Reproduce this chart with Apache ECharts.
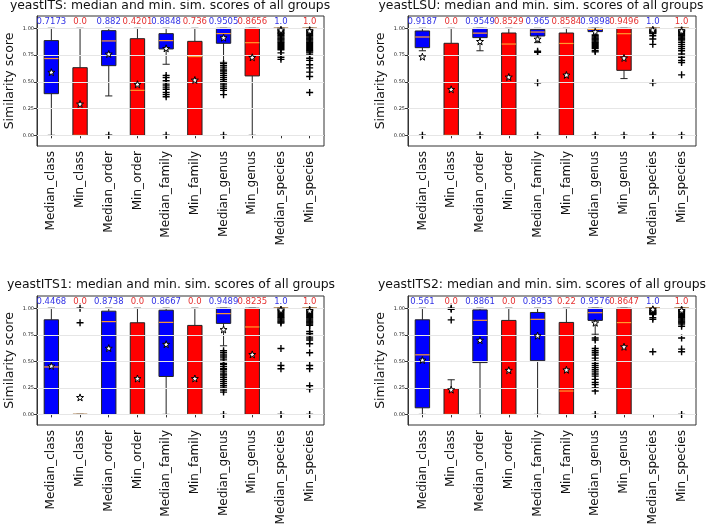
<!DOCTYPE html>
<html>
<head>
<meta charset="utf-8">
<script src="https://cdn.jsdelivr.net/npm/echarts@6/dist/echarts.min.js"></script>
<style>html,body{margin:0;padding:0;background:#fff}#c{width:709px;height:532px}</style>
</head>
<body>
<div id="c"></div>
<script>
const categories = ['Median_class','Min_class','Median_order','Min_order','Median_family','Min_family','Median_genus','Min_genus','Median_species','Min_species'];
const yTicks = [0, 0.25, 0.5, 0.75, 1.0];
const titles = ['yeastITS: median and min. sim. scores of all groups','yeastLSU: median and min. sim. scores of all groups','yeastITS1: median and min. sim. scores of all groups','yeastITS2: median and min. sim. scores of all groups'];

// [lower whisker, Q1, median, Q3, upper whisker]
const itsBoxes = [
  [0, 0.389, 0.7173, 0.885, 1.0],
  [0, 0, 0, 0.632, 1.0],
  [0.368, 0.651, 0.882, 0.978, 1.0],
  [0, 0, 0.4201, 0.903, 1.0],
  [0.664, 0.807, 0.8848, 0.95, 1.0],
  [0, 0, 0.736, 0.878, 1.0],
  [0.682, 0.86, 0.9505, 1.0, 1.0],
  [0, 0.555, 0.8656, 1.0, 1.0],
  [1, 1, 1, 1, 1],
  [1, 1, 1, 1, 1]
];
const itsMeans = [0.59, 0.293, 0.76, 0.477, 0.813, 0.517, 0.913, 0.729, 0.985, 0.975];
const itsOutliers = [
  [], [], [0], [],
  [0.56,0.54,0.51,0.49,0.47,0.45,0.43,0.40,0.38,0.36,0],
  [],
  [0.67,0.65,0.63,0.61,0.60,0.58,0.56,0.54,0.52,0.50,0.48,0.46,0.44,0.42,0.38,0],
  [],
  [0.985,0.98,0.97,0.96,0.955,0.95,0.94,0.93,0.92,0.91,0.90,0.89,0.88,0.87,0.86,0.85,0.84,0.83,0.82,0.81,0.80,0.77,0.73,0.71],
  [0.985,0.98,0.97,0.96,0.95,0.94,0.93,0.92,0.91,0.90,0.89,0.88,0.87,0.86,0.85,0.84,0.83,0.82,0.81,0.80,0.79,0.78,0.77,0.75,0.72,0.70,0.66,0.63,0.59,0.55,0.40]
];
const itsLabels = ['0.7173','0.0','0.882','0.4201','0.8848','0.736','0.9505','0.8656','1.0','1.0'];

const lsuBoxes = [
  [0.79, 0.819, 0.9187, 0.975, 1.0],
  [0, 0, 0, 0.86, 1.0],
  [0.79, 0.913, 0.9549, 1.0, 1.0],
  [0, 0, 0.8529, 0.956, 1.0],
  [0.866, 0.928, 0.965, 0.99, 1.0],
  [0, 0, 0.8584, 0.956, 1.0],
  [0.94, 0.969, 0.9898, 1.0, 1.0],
  [0.53, 0.607, 0.9496, 1.0, 1.0],
  [1, 1, 1, 1, 1],
  [1, 1, 1, 1, 1]
];
const lsuMeans = [0.735, 0.43, 0.878, 0.545, 0.9, 0.564, 0.968, 0.723, 0.985, 0.975];
const lsuOutliers = [
  [0], [], [0], [],
  [0.785,0.775,0.49,0],
  [],
  [0.93,0.92,0.91,0.90,0.89,0.88,0.87,0.86,0.85,0.84,0.83,0.82,0.81,0.79,0.78,0],
  [0],
  [0.985,0.98,0.975,0.97,0.965,0.96,0.955,0.95,0.93,0.90,0.85,0.49,0],
  [0.985,0.98,0.975,0.97,0.96,0.95,0.94,0.93,0.92,0.91,0.90,0.89,0.87,0.85,0.83,0.81,0.79,0.76,0.73,0.70,0.68,0.565,0]
];
const lsuLabels = ['0.9187','0.0','0.9549','0.8529','0.965','0.8584','0.9898','0.9496','1.0','1.0'];

const its1Boxes = [
  [0, 0, 0.4468, 0.891, 1.0],
  [0, 0, 0, 0, 0],
  [0, 0, 0.8738, 0.972, 1.0],
  [0, 0, 0, 0.863, 1.0],
  [0, 0.357, 0.8667, 0.981, 1.0],
  [0, 0, 0, 0.838, 1.0],
  [0.646, 0.857, 0.9489, 1.0, 1.0],
  [0, 0, 0.8235, 1.0, 1.0],
  [1, 1, 1, 1, 1],
  [1, 1, 1, 1, 1]
];
const its1Means = [0.456, 0.16, 0.624, 0.338, 0.661, 0.338, 0.80, 0.565, 0.985, 0.975];
const its1Outliers = [
  [], [1.0,0.863], [], [], [], [],
  [0.60,0.58,0.56,0.54,0.52,0.50,0.48,0.47,0.45,0.43,0.42,0.40,0.38,0.37,0.35,0.33,0.31,0.29,0.27,0.25,0.23,0.21,0],
  [],
  [0.985,0.98,0.97,0.96,0.95,0.94,0.93,0.92,0.91,0.90,0.89,0.88,0.87,0.86,0.62,0.46,0.43,0],
  [0.985,0.98,0.97,0.96,0.95,0.94,0.93,0.92,0.91,0.90,0.89,0.88,0.87,0.86,0.85,0.84,0.78,0.76,0.74,0.72,0.70,0.665,0.58,0.46,0.43,0.27,0.24,0]
];
const its1Labels = ['0.4468','0.0','0.8738','0.0','0.8667','0.0','0.9489','0.8235','1.0','1.0'];

const its2Boxes = [
  [0, 0.062, 0.561, 0.891, 1.0],
  [0, 0, 0, 0.242, 0.326],
  [0, 0.488, 0.8861, 0.984, 1.0],
  [0, 0, 0, 0.885, 1.0],
  [0, 0.506, 0.8953, 0.96, 1.0],
  [0, 0, 0.22, 0.866, 1.0],
  [0.755, 0.885, 0.9576, 1.0, 1.0],
  [0, 0, 0.8647, 1.0, 1.0],
  [1, 1, 1, 1, 1],
  [1, 1, 1, 1, 1]
];
const its2Means = [0.512, 0.233, 0.699, 0.416, 0.742, 0.42, 0.863, 0.637, 0.99, 0.98];
const its2Outliers = [
  [], [1.0,0.99,0.89], [], [], [], [],
  [0.72,0.70,0.62,0.60,0.58,0.56,0.53,0.50,0.48,0.46,0.44,0.42,0.40,0.38,0.36,0.33,0.30,0.28,0.25,0.22,0],
  [],
  [0.985,0.98,0.975,0.97,0.965,0.96,0.955,0.95,0.945,0.94,0.91,0.895,0.59],
  [0.985,0.98,0.975,0.97,0.96,0.95,0.94,0.93,0.92,0.91,0.90,0.89,0.88,0.87,0.86,0.85,0.83,0.72,0.615,0.59,0]
];
const its2Labels = ['0.561','0.0','0.8861','0.0','0.8953','0.22','0.9576','0.8647','1.0','1.0'];

const panels = [
  {boxes: itsBoxes, means: itsMeans, outliers: itsOutliers, labels: itsLabels},
  {boxes: lsuBoxes, means: lsuMeans, outliers: lsuOutliers, labels: lsuLabels},
  {boxes: its1Boxes, means: its1Means, outliers: its1Outliers, labels: its1Labels},
  {boxes: its2Boxes, means: its2Means, outliers: its2Outliers, labels: its2Labels}
];

const FONT = 'DejaVu Sans';
const gridRects = [
  {left: 37, top: 16, width: 287, height: 130},
  {left: 408, top: 16, width: 288, height: 130},
  {left: 37, top: 296, width: 287, height: 129},
  {left: 408, top: 296, width: 288, height: 129}
];
const titlePos = [{x: 170, y: 0}, {x: 541, y: 0}, {x: 171, y: 279}, {x: 542, y: 279}];
const LABEL_Y = 1.06;
const plusPath = 'path://M4,0h2v4h4v2h-4v4h-2v-4h-4v-2h4z';
const starPath = 'path://M0,-10 L2.35,-3.24 L9.51,-3.09 L3.8,1.24 L5.88,8.09 L0,4 L-5.88,8.09 L-3.8,1.24 L-9.51,-3.09 L-2.35,-3.24 Z';

const option = {
  animation: false,
  backgroundColor: '#fff',
  title: titles.map((t, g) => ({
    text: t, left: titlePos[g].x, top: titlePos[g].y, textAlign: 'center', padding: 0,
    textStyle: {fontFamily: FONT, fontSize: 12.4, fontWeight: 'normal', color: '#111'}
  })),
  grid: gridRects.map(r => Object.assign({show: true, borderColor: '#333', borderWidth: 1, containLabel: false}, r)),
  xAxis: gridRects.map((r, g) => ({
    type: 'category', gridIndex: g, data: categories, boundaryGap: true,
    axisLine: {lineStyle: {color: '#333', width: 1}},
    axisTick: {show: true, alignWithLabel: true, length: 3, lineStyle: {color: '#333'}},
    axisLabel: {rotate: 90, interval: 0, fontSize: 12, fontFamily: FONT, color: '#111', margin: 5},
    splitLine: {show: false}
  })),
  yAxis: gridRects.map((r, g) => ({
    type: 'value', gridIndex: g, min: -0.1, max: 1.115,
    name: 'Similarity score', nameLocation: 'middle', nameGap: 21,
    nameTextStyle: {fontFamily: FONT, fontSize: 12.5, color: '#111'},
    axisLine: {show: true, lineStyle: {color: '#333', width: 1}},
    axisTick: {show: true, length: 3, customValues: yTicks, lineStyle: {color: '#333'}},
    axisLabel: {customValues: yTicks, fontSize: 5, fontFamily: FONT, color: '#222', margin: 3, formatter: v => v.toFixed(2)},
    splitLine: {show: false}
  })),
  series: []
};

panels.forEach((p, g) => {
  option.series.push({
    type: 'line', xAxisIndex: g, yAxisIndex: g, data: [], z: 1, silent: true,
    markLine: {silent: true, symbol: 'none', label: {show: false}, animation: false,
      lineStyle: {color: '#e6e6e6', type: 'solid', width: 1},
      data: yTicks.map(v => ({yAxis: v}))}
  });
  option.series.push({
    type: 'custom', xAxisIndex: g, yAxisIndex: g, z: 3,
    data: p.boxes.map((b, i) => [i].concat(b)),
    encode: {x: 0, y: [1, 2, 3, 4, 5]},
    renderItem: function (params, api) {
      const i = api.value(0);
      const band = api.size([1, 0])[0];
      const bw = band * 0.5, cw = bw * 0.5;
      const pMin = api.coord([i, api.value(1)]);
      const pQ1 = api.coord([i, api.value(2)]);
      const pMed = api.coord([i, api.value(3)]);
      const pQ3 = api.coord([i, api.value(4)]);
      const pMax = api.coord([i, api.value(5)]);
      const cx = pMed[0];
      const fill = (i % 2 === 0) ? '#0000ff' : '#ff0000';
      const wStyle = {stroke: '#222', lineWidth: 1};
      const children = [
        {type: 'line', shape: {x1: cx, y1: pQ3[1], x2: cx, y2: pMax[1]}, style: wStyle},
        {type: 'line', shape: {x1: cx, y1: pQ1[1], x2: cx, y2: pMin[1]}, style: wStyle},
        {type: 'line', shape: {x1: cx - cw / 2, y1: pMax[1], x2: cx + cw / 2, y2: pMax[1]}, style: wStyle},
        {type: 'line', shape: {x1: cx - cw / 2, y1: pMin[1], x2: cx + cw / 2, y2: pMin[1]}, style: wStyle},
        {type: 'rect', shape: {x: cx - bw / 2, y: pQ3[1], width: bw, height: pQ1[1] - pQ3[1]}, style: {fill: fill, stroke: '#222', lineWidth: 1}},
        {type: 'line', shape: {x1: cx - bw / 2, y1: pMed[1], x2: cx + bw / 2, y2: pMed[1]}, style: {stroke: '#ff9a2e', lineWidth: 1.2}}
      ];
      return {type: 'group', children: children};
    }
  });
  const od = [];
  p.outliers.forEach((arr, i) => arr.forEach(v => od.push([i, v])));
  option.series.push({
    type: 'scatter', xAxisIndex: g, yAxisIndex: g, z: 4, data: od,
    symbol: plusPath, symbolSize: 7, itemStyle: {color: '#000', opacity: 1}
  });
  option.series.push({
    type: 'scatter', xAxisIndex: g, yAxisIndex: g, z: 5,
    data: p.means.map((v, i) => [i, v]),
    symbol: starPath, symbolSize: 7, itemStyle: {color: '#fff', borderColor: '#000', borderWidth: 1, opacity: 1}
  });
  option.series.push({
    type: 'custom', xAxisIndex: g, yAxisIndex: g, z: 6,
    data: p.labels.map((t, i) => [i, t]),
    renderItem: function (params, api) {
      const i = params.dataIndex;
      const pt = api.coord([i, LABEL_Y]);
      return {type: 'text', x: pt[0], y: pt[1], style: {
        text: p.labels[i], fill: (i % 2 === 0) ? '#3333e6' : '#e63333',
        font: '8.5px "DejaVu Sans"', align: 'center', verticalAlign: 'middle'}};
    }
  });
});

const chart = echarts.init(document.getElementById('c'), null, {renderer: 'canvas'});
chart.setOption(option);
</script>
</body>
</html>
